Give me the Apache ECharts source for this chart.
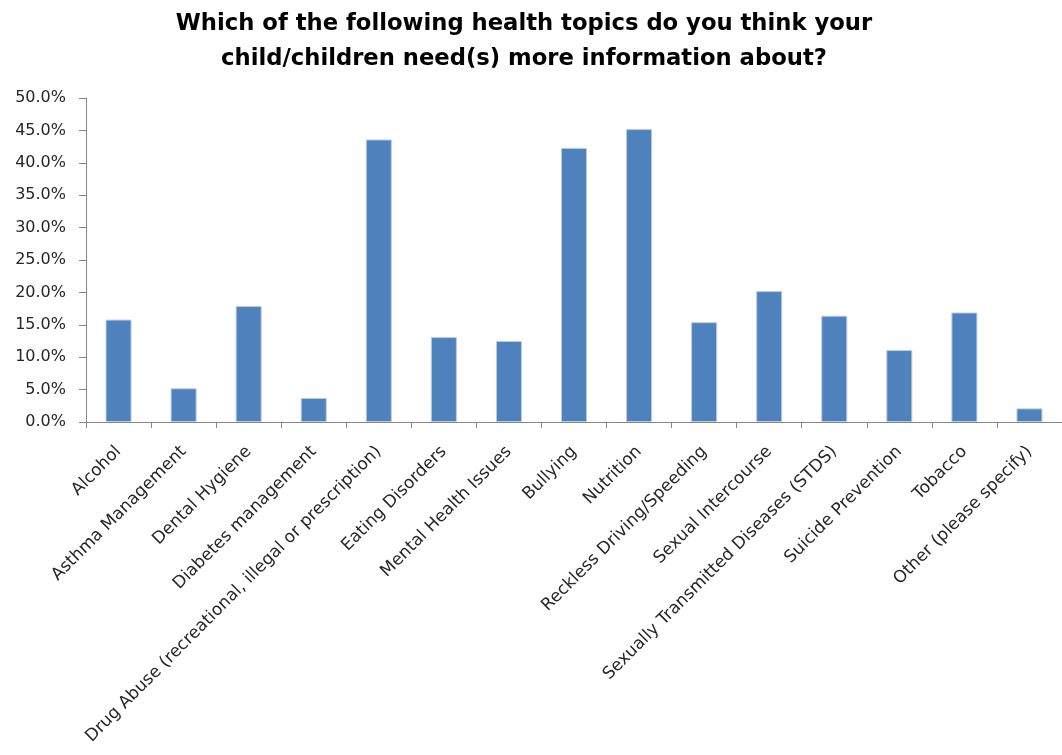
<!DOCTYPE html>
<html lang="en">
<head>
    <meta charset="UTF-8">
    <title>Health topics</title>
    <script src="https://cdn.jsdelivr.net/npm/echarts@6/dist/echarts.min.js"></script>
    <style>
        html, body { margin: 0; padding: 0; background: #fff; }
    </style>
</head>
<body>
<div id="main" style="width: 1062px;height:755px;"></div>
<script type="text/javascript">
    // categories
    var topics = [
        "Alcohol",
        "Asthma Management",
        "Dental Hygiene",
        "Diabetes management",
        "Drug Abuse (recreational, illegal or prescription)",
        "Eating Disorders",
        "Mental Health Issues",
        "Bullying",
        "Nutrition",
        "Reckless Driving/Speeding",
        "Sexual Intercourse",
        "Sexually Transmitted Diseases (STDS)",
        "Suicide Prevention",
        "Tobacco",
        "Other (please specify)"
    ];
    // percent of responses
    var percents = [15.8, 5.2, 17.9, 3.7, 43.6, 13.1, 12.5, 42.3, 45.2, 15.4, 20.2, 16.4, 11.1, 16.9, 2.1];
    // y axis
    var yMin = 0, yMax = 50, yStep = 5;

    var myChart = echarts.init(document.getElementById('main'));
    myChart.setOption({
        animation: false,
        title: {
            text: "Which of the following health topics do you think your\nchild/children need(s) more information about?",
            left: 519,
            textAlign: 'center',
            top: 2,
            textStyle: {
                fontFamily: 'DejaVu Sans',
                fontWeight: 'bold',
                fontSize: 22.7,
                lineHeight: 35,
                color: '#000'
            }
        },
        grid: {
            left: 86,
            width: 985,
            top: 98,
            bottom: 333
        },
        xAxis: {
            type: 'category',
            data: topics,
            axisLine: { lineStyle: { color: '#868686', width: 1 } },
            axisTick: { show: true, length: 6, lineStyle: { color: '#868686' } },
            axisLabel: {
                interval: 0,
                rotate: 45,
                margin: 27,
                fontFamily: 'DejaVu Sans',
                fontSize: 17,
                color: '#262626'
            }
        },
        yAxis: {
            type: 'value',
            min: yMin,
            max: yMax,
            interval: yStep,
            axisLine: { show: true, lineStyle: { color: '#868686', width: 1 } },
            axisTick: { show: true, length: 7, lineStyle: { color: '#868686' } },
            splitLine: { show: false },
            axisLabel: {
                margin: 20,
                fontFamily: 'DejaVu Sans',
                fontSize: 16,
                color: '#262626',
                formatter: function (v) {
                    return v.toFixed(1) + '%';
                }
            }
        },
        series: [
            {
                type: 'bar',
                data: percents,
                barWidth: '40%',
                itemStyle: {
                    color: '#4F81BD',
                    borderColor: '#b9cbe3',
                    borderWidth: 1
                }
            }
        ]
    });
</script>
</body>
</html>
